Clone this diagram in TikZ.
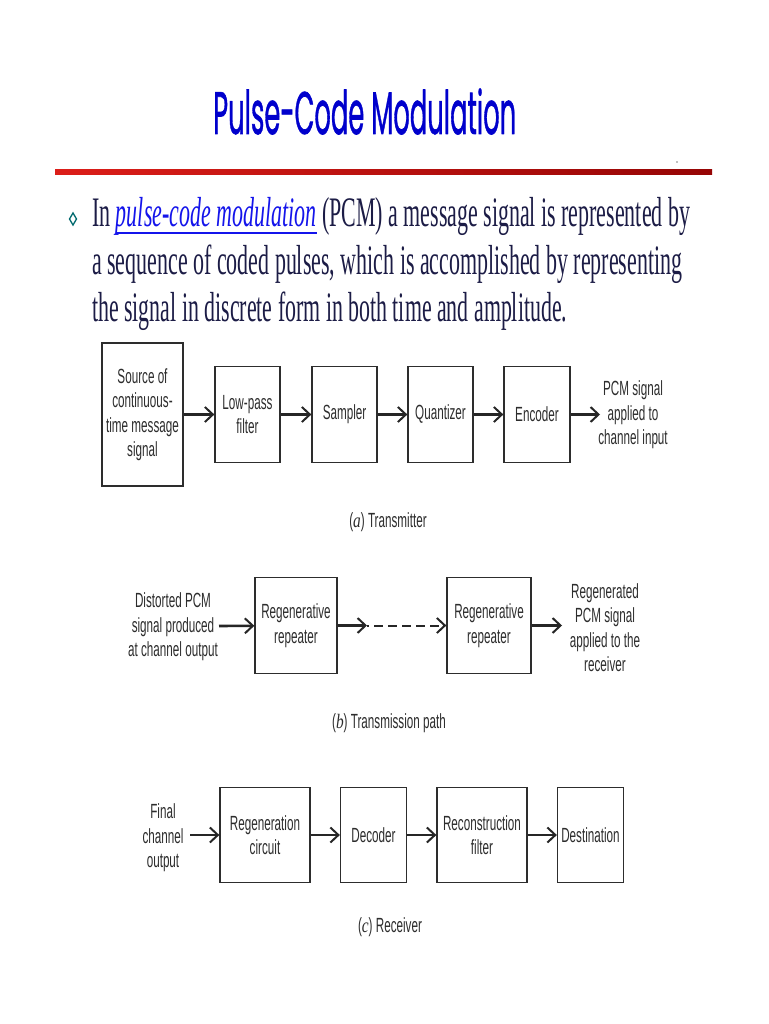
\documentclass[tikz,border=0pt]{standalone}
\usepackage{fontspec}
\usepackage{graphicx}
\setmainfont{Liberation Serif}
\newfontfamily\titlefont[FakeBold=1.2]{Poppins}
\newfontfamily\blockfont[FakeStretch=0.57]{Liberation Sans}
\newfontfamily\capserif[FakeStretch=0.75]{Liberation Serif}
\usetikzlibrary{arrows.meta}

\definecolor{titleblue}{RGB}{0,0,204}
\definecolor{bodynavy}{RGB}{28,28,70}
\definecolor{linkblue}{RGB}{20,20,235}
\definecolor{bulletteal}{RGB}{0,105,110}
\definecolor{rulered}{RGB}{220,30,25}
\definecolor{ruledark}{RGB}{150,5,5}
\definecolor{inkgray}{RGB}{45,45,45}

\newcommand{\squeeze}[2]{\resizebox{#1}{\height}{#2}}
\newcommand{\linkul}[1]{\setbox0\hbox{#1}\rlap{\copy0}\rule[-7pt]{\wd0}{1.8pt}}

\tikzset{
  block/.style={draw=inkgray,line width=1.3pt,minimum height=96pt,inner sep=0pt,
    font=\blockfont\fontsize{20.5}{24.5}\selectfont,text=inkgray,align=center},
  label/.style={inner sep=0pt,font=\blockfont\fontsize{20.5}{24.5}\selectfont,
    text=inkgray,align=center},
  flow/.style={line width=2.6pt,draw=black!85,
    -{Straight Barb[length=8pt,width=15pt,line width=2pt]}},
  body/.style={inner sep=0pt,anchor=base west,text=bodynavy,
    font=\fontsize{42}{47}\selectfont}
}

\begin{document}
\begin{tikzpicture}[x=1pt,y=-1pt]
\fill[white] (0,0) rectangle (768,1024);
\useasboundingbox (0,0) rectangle (768,1024);

% title and rule
\node[inner sep=0pt,anchor=base west,text=titleblue,font=\titlefont\fontsize{60}{60}\selectfont]
  (title) at (213,134) {\squeeze{303pt}{Pulse-Code Modulation}};
\shade[left color=rulered,right color=ruledark] (55,169.5) rectangle (712,174.5);
\fill[gray] (677,162) circle (0.8);

% bullet text
\draw[bulletteal,line width=1.3pt] (73,213) -- (76.5,219) -- (73,225) -- (69.5,219) -- cycle;
\node[body] (line1) at (92,227) {\squeeze{598pt}{In \textcolor{linkblue}{\linkul{\itshape pulse-code modulation}} (PCM) a message signal is represented by}};
\node[body] (line2) at (92,274) {\squeeze{590pt}{a sequence of coded pulses, which is accomplished by representing}};
\node[body] (line3) at (92,321) {\squeeze{475pt}{the signal in discrete form in both time and amplitude.}};

% (a) transmitter
\node[block,minimum width=81pt,minimum height=143pt] (source) at (142.5,414.5) {Source of\\continuous-\\time message\\signal};
\node[block,minimum width=65pt] (lowpass) at (247.5,414.5) {Low-pass\\filter};
\node[block,minimum width=65pt] (sampler) at (344.5,414.5) {Sampler};
\node[block,minimum width=65pt] (quantizer) at (440.5,414.5) {Quantizer};
\node[block,minimum width=66pt] (encoder) at (537,414.5) {Encoder};
\coordinate (pcmout) at (600,414.5);
\node[label] (pcmtext) at (633,415) {PCM signal\\applied to\\channel input};
\draw[flow] (source) -- (lowpass);
\draw[flow] (lowpass) -- (sampler);
\draw[flow] (sampler) -- (quantizer);
\draw[flow] (quantizer) -- (encoder);
\draw[flow] (encoder) -- (pcmout);
\node[label] (capa) at (388,522) {({\capserif\itshape a}) Transmitter};

% (b) transmission path
\node[label] (distorted) at (173,627) {Distorted PCM\\signal produced\\at channel output};
\coordinate (distin) at (219,626);
\node[block,minimum width=82pt] (repeatA) at (296,625.5) {Regenerative\\repeater};
\node[block,minimum width=84pt] (repeatB) at (489,625.5) {Regenerative\\repeater};
\coordinate (gap) at (367,625.5);
\coordinate (regout) at (562,625.5);
\node[label] (regtext) at (605,627.5) {Regenerated\\PCM signal\\applied to the\\receiver};
\draw[flow] (distin) -- (repeatA);
\draw[flow] (repeatA) -- (gap);
\draw[flow,line width=2pt,dash pattern=on 9pt off 5pt,dash phase=7pt] (gap) -- (repeatB);
\draw[flow] (repeatB) -- (regout);
\node[label] (capb) at (389,723) {({\capserif\itshape b}) Transmission path};

% (c) receiver
\node[label] (final) at (163,838) {Final\\channel\\output};
\coordinate (finalin) at (190,835);
\node[block,minimum width=90pt,minimum height=95pt] (regen) at (265,835) {Regeneration\\circuit};
\node[block,minimum width=66pt,minimum height=95pt] (decoder) at (373.5,835) {Decoder};
\node[block,minimum width=90pt,minimum height=95pt] (recon) at (482,835) {Reconstruction\\filter};
\node[block,minimum width=66pt,minimum height=95pt] (dest) at (590.5,835) {Destination};
\draw[flow] (finalin) -- (regen);
\draw[flow] (regen) -- (decoder);
\draw[flow] (decoder) -- (recon);
\draw[flow] (recon) -- (dest);
\node[label] (capc) at (390,927) {({\capserif\itshape c}) Receiver};
\end{tikzpicture}
\end{document}
